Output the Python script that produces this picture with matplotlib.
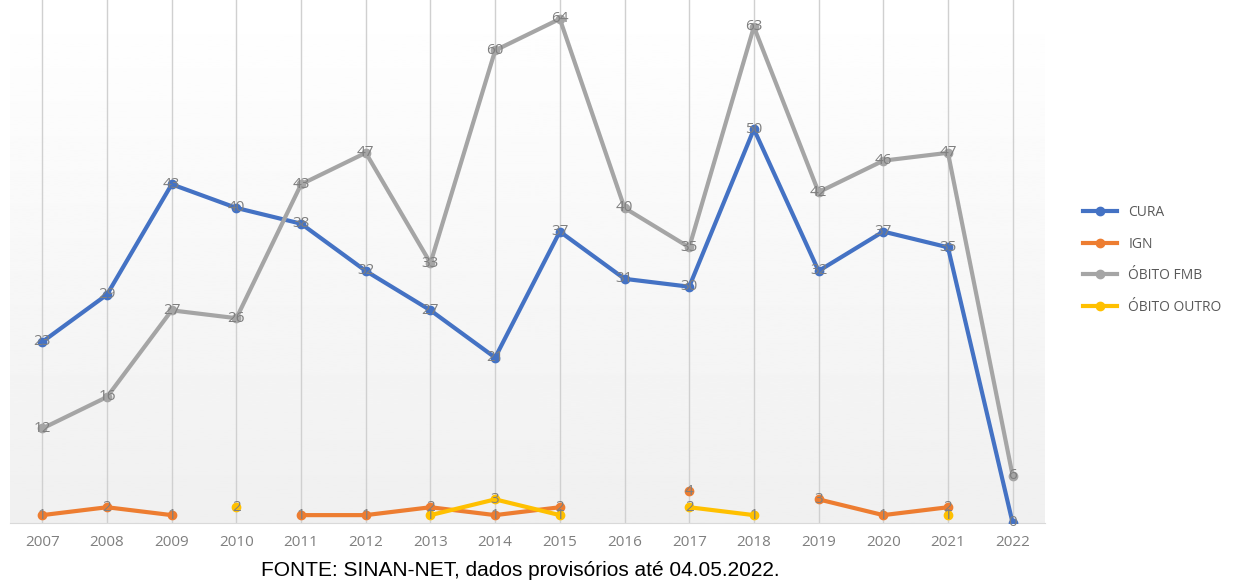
import numpy as np
import matplotlib
matplotlib.use('Agg')
import matplotlib.pyplot as plt


years = ['2007', '2008', '2009', '2010', '2011', '2012', '2013', '2014',
         '2015', '2016', '2017', '2018', '2019', '2020', '2021', '2022']

nan = np.nan
cura = [23, 29, 43, 40, 38, 32, 27, 21, 37, 31, 30, 50, 32, 37, 35, 0]
ign = [1, 2, 1, nan, 1, 1, 2, 1, 2, nan, 4, nan, 3, 1, 2, nan]
obito_fmb = [12, 16, 27, 26, 43, 47, 33, 60, 64, 40, 35, 63, 42, 46, 47, 6]
obito_outro = [nan, nan, nan, 2, nan, nan, 1, 3, 1, nan, 2, 1, nan, nan, 1, nan]

series = [
    ('CURA', cura, '#4472C4'),
    ('IGN', ign, '#ED7D31'),
    ('ÓBITO FMB', obito_fmb, '#A5A5A5'),
    ('ÓBITO OUTRO', obito_outro, '#FFC000'),
]


fig = plt.figure(figsize=(12.37, 5.84), dpi=100)
ax = fig.add_axes([10 / 1237, 1 - 523 / 584, 1035 / 1237, 523 / 584])

x = np.arange(len(years))
ax.set_xlim(-0.5, len(years) - 0.5)
ax.set_ylim(0, 66.4)

# Soft gray gradient behind the plot, like the original chart.
grad = np.linspace(1.0, 0.94, 256).reshape(-1, 1)
ax.imshow(grad, extent=(-0.5, len(years) - 0.5, 0, 66.4), aspect='auto',
          cmap='gray', vmin=0, vmax=1, zorder=0)

for xi in x:
    ax.axvline(xi, color='#d0d0d0', lw=1, zorder=1)

for name, vals, color in series:
    v = np.array(vals, dtype=float)
    ax.plot(x, v, color=color, lw=3, marker='o', ms=6, label=name, zorder=3)
    for xi, yi in zip(x, v):
        if not np.isnan(yi):
            ax.text(xi, yi, '%d' % yi, ha='center', va='center', fontsize=11,
                    color='#7f7f7f', family='Open Sans', zorder=4)

for side in ['top', 'right', 'left']:
    ax.spines[side].set_visible(False)
ax.spines['bottom'].set_color('#d9d9d9')
ax.set_yticks([])
ax.set_xticks(x)
ax.set_xticklabels(years, fontsize=11, color='#7f7f7f', family='Open Sans')
ax.tick_params(axis='x', length=0, pad=9)

leg = fig.legend(loc='center left', bbox_to_anchor=(1070 / 1237, 1 - 260 / 584),
                 frameon=False, handlelength=2.5, labelspacing=1.2,
                 prop={'family': 'Open Sans', 'size': 10})
for t in leg.get_texts():
    t.set_color('#595959')

fig.text(520 / 1237, 1 - 570 / 584, 'FONTE: SINAN-NET, dados provisórios até 04.05.2022.',
         ha='center', va='center', fontsize=15, family='Liberation Sans', color='black')

fig.savefig('out.png', dpi=100)
